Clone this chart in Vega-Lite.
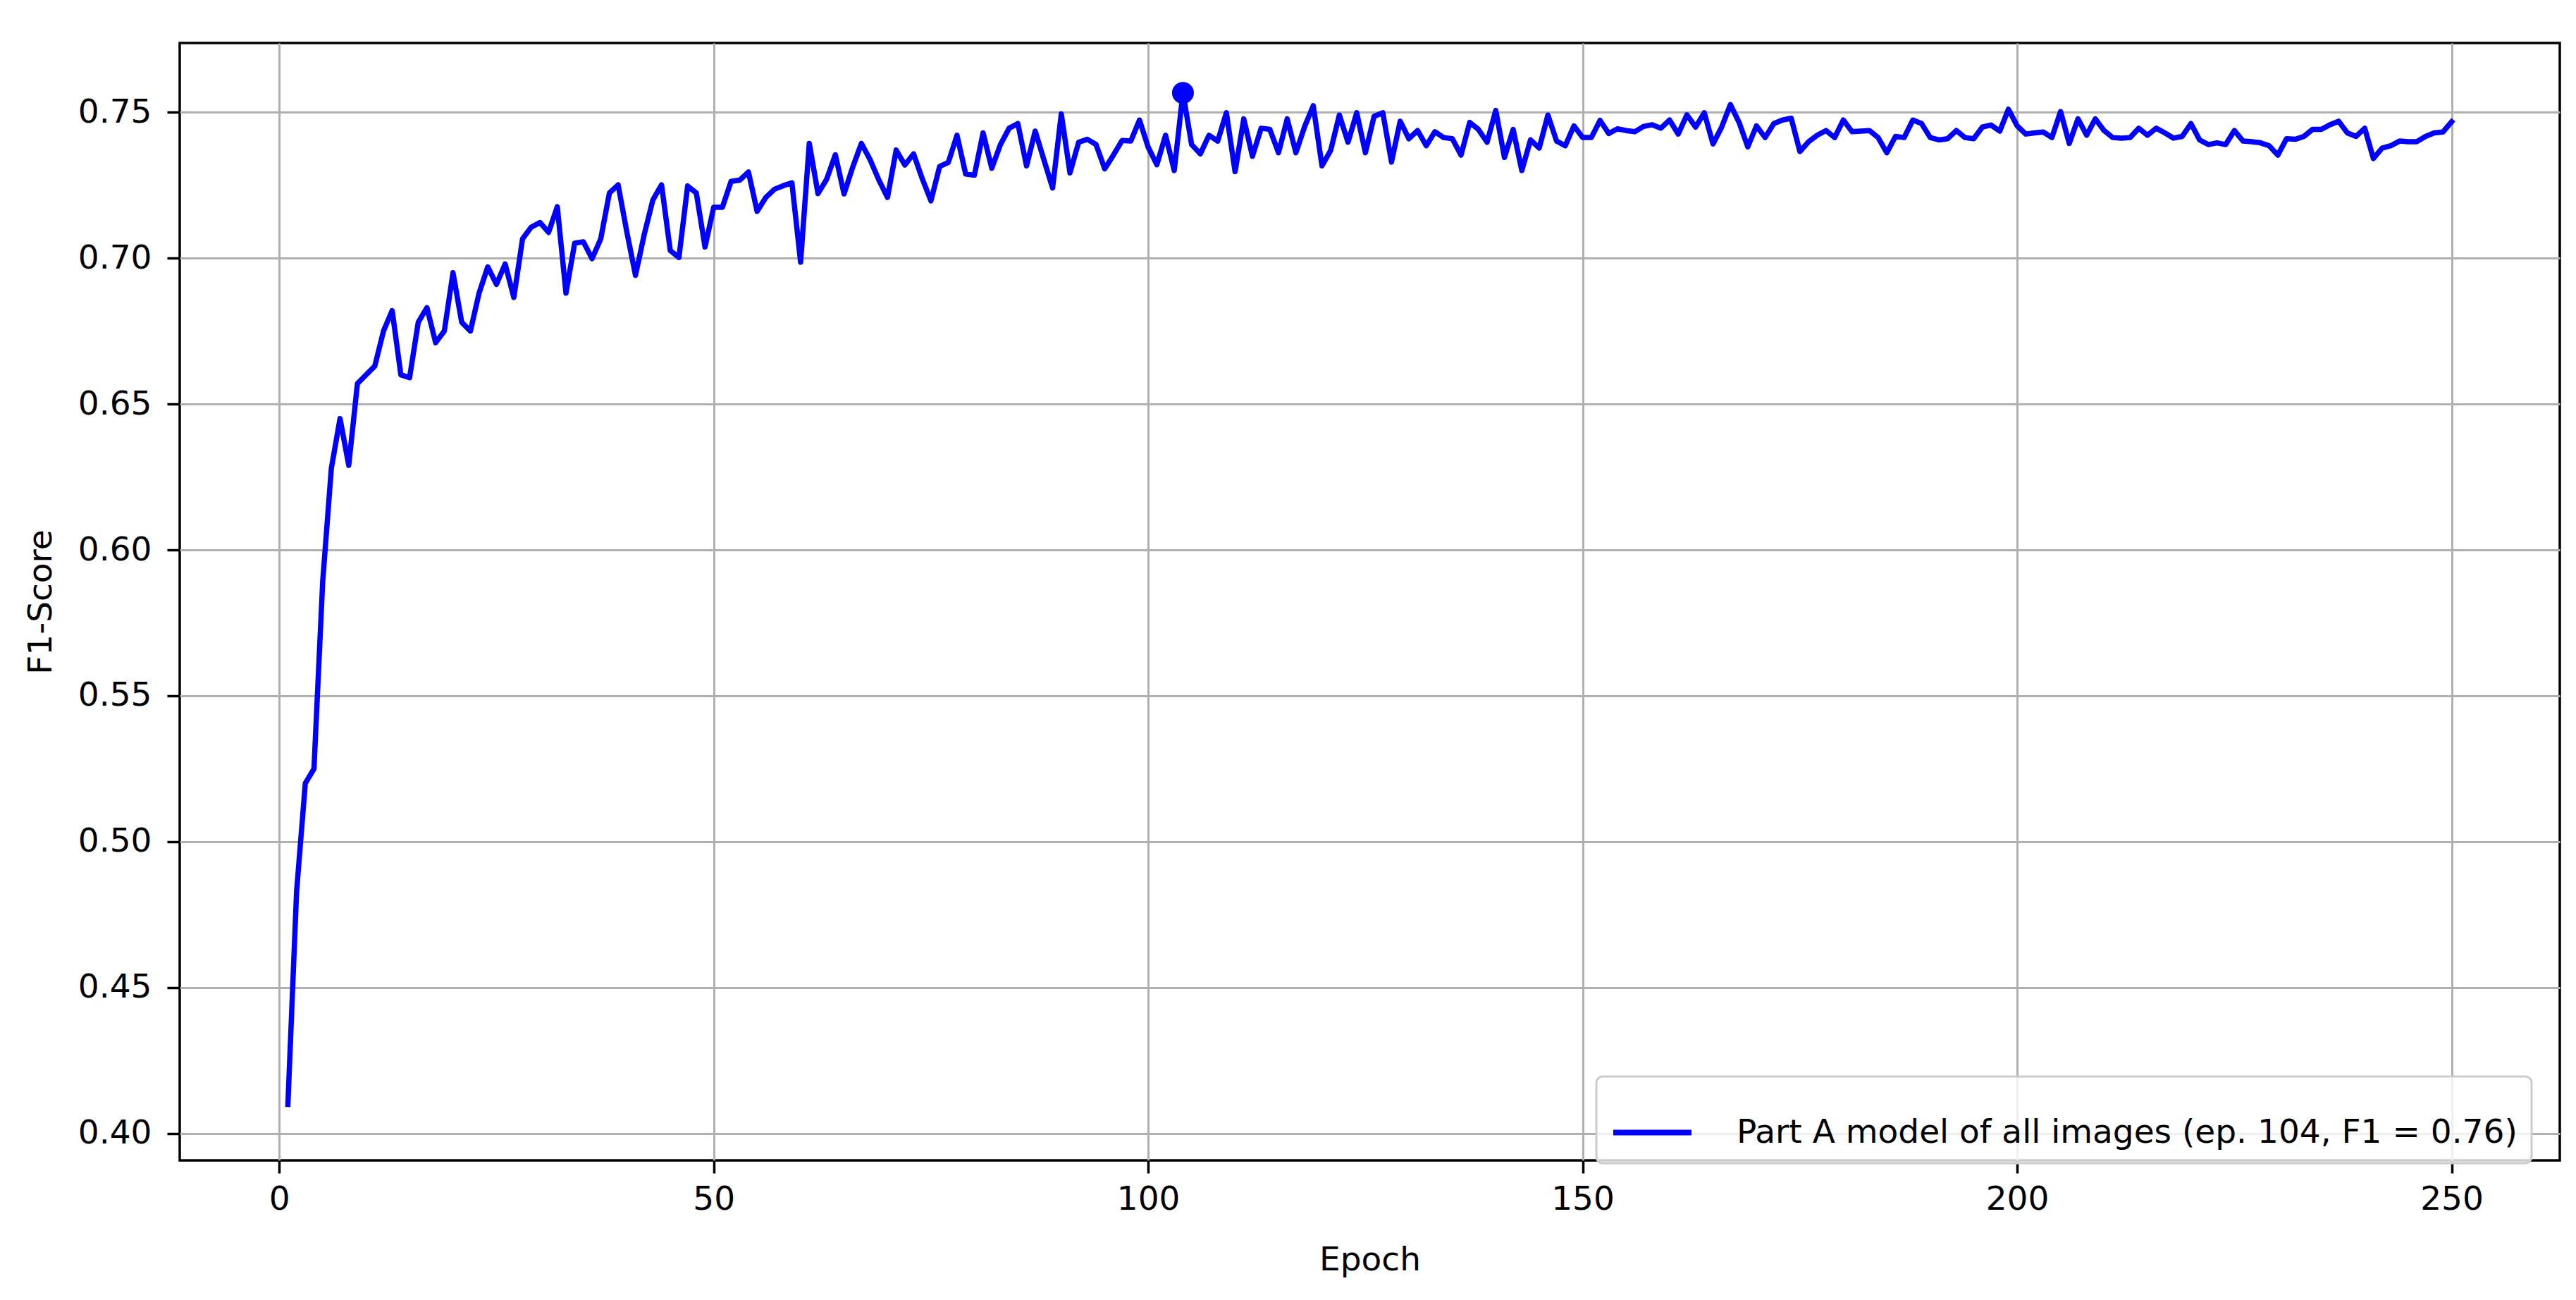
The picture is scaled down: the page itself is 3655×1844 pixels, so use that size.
{
  "$schema": "https://vega.github.io/schema/vega-lite/v6.json",
  "width": 3377,
  "height": 1585,
  "autosize": {"type": "none"},
  "padding": {"left": 255, "top": 61, "right": 23, "bottom": 198},
  "background": "#ffffff",
  "config": {
    "font": "DejaVu Sans",
    "view": {"stroke": "#000000", "strokeWidth": 3.5},
    "axis": {
      "domain": false,
      "grid": true,
      "gridColor": "#b0b0b0",
      "gridWidth": 3,
      "tickColor": "#000000",
      "tickWidth": 3.5,
      "tickSize": 18,
      "labelFont": "DejaVu Sans",
      "labelFontSize": 47,
      "labelColor": "#000000",
      "titleFont": "DejaVu Sans",
      "titleFontSize": 47,
      "titleFontWeight": "normal",
      "titleColor": "#000000"
    },
    "legend": {
      "orient": "none",
      "legendX": 2010,
      "legendY": 1466,
      "padding": 20,
      "fillColor": "rgba(255,255,255,0.8)",
      "strokeColor": "#cccccc",
      "strokeWidth": 3,
      "cornerRadius": 9,
      "symbolType": "stroke",
      "symbolSize": 12321,
      "symbolStrokeWidth": 8,
      "labelFont": "DejaVu Sans",
      "labelFontSize": 47,
      "labelColor": "#000000",
      "labelOffset": 60,
      "labelLimit": 0
    }
  },
  "data": {
    "values": [
      {"epoch": 1, "f1": 0.410}, {"epoch": 2, "f1": 0.483}, {"epoch": 3, "f1": 0.520}, {"epoch": 4, "f1": 0.525},
      {"epoch": 5, "f1": 0.589}, {"epoch": 6, "f1": 0.628}, {"epoch": 7, "f1": 0.645}, {"epoch": 8, "f1": 0.629},
      {"epoch": 9, "f1": 0.657}, {"epoch": 10, "f1": 0.660}, {"epoch": 11, "f1": 0.663}, {"epoch": 12, "f1": 0.675},
      {"epoch": 13, "f1": 0.682}, {"epoch": 14, "f1": 0.660}, {"epoch": 15, "f1": 0.659}, {"epoch": 16, "f1": 0.678},
      {"epoch": 17, "f1": 0.683}, {"epoch": 18, "f1": 0.671}, {"epoch": 19, "f1": 0.675}, {"epoch": 20, "f1": 0.695},
      {"epoch": 21, "f1": 0.678}, {"epoch": 22, "f1": 0.675}, {"epoch": 23, "f1": 0.688}, {"epoch": 24, "f1": 0.697},
      {"epoch": 25, "f1": 0.691}, {"epoch": 26, "f1": 0.698}, {"epoch": 27, "f1": 0.6865}, {"epoch": 28, "f1": 0.7066},
      {"epoch": 29, "f1": 0.7106}, {"epoch": 30, "f1": 0.7122}, {"epoch": 31, "f1": 0.7088}, {"epoch": 32, "f1": 0.7176},
      {"epoch": 33, "f1": 0.688}, {"epoch": 34, "f1": 0.7051}, {"epoch": 35, "f1": 0.7056}, {"epoch": 36, "f1": 0.6998},
      {"epoch": 37, "f1": 0.7066}, {"epoch": 38, "f1": 0.7223}, {"epoch": 39, "f1": 0.7251}, {"epoch": 40, "f1": 0.709},
      {"epoch": 41, "f1": 0.6941}, {"epoch": 42, "f1": 0.708}, {"epoch": 43, "f1": 0.7199}, {"epoch": 44, "f1": 0.7251},
      {"epoch": 45, "f1": 0.7026}, {"epoch": 46, "f1": 0.7002}, {"epoch": 47, "f1": 0.7247}, {"epoch": 48, "f1": 0.7223},
      {"epoch": 49, "f1": 0.7038}, {"epoch": 50, "f1": 0.7174}, {"epoch": 51, "f1": 0.7174}, {"epoch": 52, "f1": 0.7263},
      {"epoch": 53, "f1": 0.7267}, {"epoch": 54, "f1": 0.7295}, {"epoch": 55, "f1": 0.716}, {"epoch": 56, "f1": 0.7208},
      {"epoch": 57, "f1": 0.7236}, {"epoch": 58, "f1": 0.7248}, {"epoch": 59, "f1": 0.7258}, {"epoch": 60, "f1": 0.6986},
      {"epoch": 61, "f1": 0.7393}, {"epoch": 62, "f1": 0.7221}, {"epoch": 63, "f1": 0.727}, {"epoch": 64, "f1": 0.7354},
      {"epoch": 65, "f1": 0.722}, {"epoch": 66, "f1": 0.7312}, {"epoch": 67, "f1": 0.7393}, {"epoch": 68, "f1": 0.7337},
      {"epoch": 69, "f1": 0.7268}, {"epoch": 70, "f1": 0.7208}, {"epoch": 71, "f1": 0.737}, {"epoch": 72, "f1": 0.7319},
      {"epoch": 73, "f1": 0.7357}, {"epoch": 74, "f1": 0.7272}, {"epoch": 75, "f1": 0.7196}, {"epoch": 76, "f1": 0.7314},
      {"epoch": 77, "f1": 0.7328}, {"epoch": 78, "f1": 0.7421}, {"epoch": 79, "f1": 0.7288}, {"epoch": 80, "f1": 0.7284},
      {"epoch": 81, "f1": 0.7429}, {"epoch": 82, "f1": 0.7308}, {"epoch": 83, "f1": 0.7389}, {"epoch": 84, "f1": 0.7445},
      {"epoch": 85, "f1": 0.7461}, {"epoch": 86, "f1": 0.7316}, {"epoch": 87, "f1": 0.7435}, {"epoch": 88, "f1": 0.7337},
      {"epoch": 89, "f1": 0.724}, {"epoch": 90, "f1": 0.7494}, {"epoch": 91, "f1": 0.7292}, {"epoch": 92, "f1": 0.7397},
      {"epoch": 93, "f1": 0.7407}, {"epoch": 94, "f1": 0.7389}, {"epoch": 95, "f1": 0.7306}, {"epoch": 96, "f1": 0.7353},
      {"epoch": 97, "f1": 0.7403}, {"epoch": 98, "f1": 0.7401}, {"epoch": 99, "f1": 0.7473}, {"epoch": 100, "f1": 0.738},
      {"epoch": 101, "f1": 0.732}, {"epoch": 102, "f1": 0.7421}, {"epoch": 103, "f1": 0.730}, {"epoch": 104, "f1": 0.7566},
      {"epoch": 105, "f1": 0.7389}, {"epoch": 106, "f1": 0.7357}, {"epoch": 107, "f1": 0.7421}, {"epoch": 108, "f1": 0.7401},
      {"epoch": 109, "f1": 0.7498}, {"epoch": 110, "f1": 0.7296}, {"epoch": 111, "f1": 0.7477}, {"epoch": 112, "f1": 0.7349},
      {"epoch": 113, "f1": 0.7445}, {"epoch": 114, "f1": 0.7441}, {"epoch": 115, "f1": 0.7361}, {"epoch": 116, "f1": 0.7477},
      {"epoch": 117, "f1": 0.7361}, {"epoch": 118, "f1": 0.745}, {"epoch": 119, "f1": 0.7522}, {"epoch": 120, "f1": 0.7316},
      {"epoch": 121, "f1": 0.7369}, {"epoch": 122, "f1": 0.749}, {"epoch": 123, "f1": 0.7397}, {"epoch": 124, "f1": 0.7498},
      {"epoch": 125, "f1": 0.7361}, {"epoch": 126, "f1": 0.7486}, {"epoch": 127, "f1": 0.7498}, {"epoch": 128, "f1": 0.7329},
      {"epoch": 129, "f1": 0.7469}, {"epoch": 130, "f1": 0.7409}, {"epoch": 131, "f1": 0.7437}, {"epoch": 132, "f1": 0.7385},
      {"epoch": 133, "f1": 0.7433}, {"epoch": 134, "f1": 0.7413}, {"epoch": 135, "f1": 0.7409}, {"epoch": 136, "f1": 0.7353},
      {"epoch": 137, "f1": 0.7465}, {"epoch": 138, "f1": 0.7441}, {"epoch": 139, "f1": 0.7397}, {"epoch": 140, "f1": 0.7506},
      {"epoch": 141, "f1": 0.7345}, {"epoch": 142, "f1": 0.7441}, {"epoch": 143, "f1": 0.730}, {"epoch": 144, "f1": 0.7405},
      {"epoch": 145, "f1": 0.7377}, {"epoch": 146, "f1": 0.749}, {"epoch": 147, "f1": 0.7401}, {"epoch": 148, "f1": 0.7385},
      {"epoch": 149, "f1": 0.7453}, {"epoch": 150, "f1": 0.7413}, {"epoch": 151, "f1": 0.7413}, {"epoch": 152, "f1": 0.7472},
      {"epoch": 153, "f1": 0.7427}, {"epoch": 154, "f1": 0.7443}, {"epoch": 155, "f1": 0.7437}, {"epoch": 156, "f1": 0.7433},
      {"epoch": 157, "f1": 0.7451}, {"epoch": 158, "f1": 0.7457}, {"epoch": 159, "f1": 0.7445}, {"epoch": 160, "f1": 0.7473},
      {"epoch": 161, "f1": 0.7425}, {"epoch": 162, "f1": 0.7491}, {"epoch": 163, "f1": 0.7449}, {"epoch": 164, "f1": 0.7498},
      {"epoch": 165, "f1": 0.7391}, {"epoch": 166, "f1": 0.7449}, {"epoch": 167, "f1": 0.7526}, {"epoch": 168, "f1": 0.7465},
      {"epoch": 169, "f1": 0.7381}, {"epoch": 170, "f1": 0.7453}, {"epoch": 171, "f1": 0.7413}, {"epoch": 172, "f1": 0.7461},
      {"epoch": 173, "f1": 0.7473}, {"epoch": 174, "f1": 0.7479}, {"epoch": 175, "f1": 0.7365}, {"epoch": 176, "f1": 0.7399},
      {"epoch": 177, "f1": 0.7421}, {"epoch": 178, "f1": 0.7437}, {"epoch": 179, "f1": 0.7413}, {"epoch": 180, "f1": 0.7473},
      {"epoch": 181, "f1": 0.7433}, {"epoch": 182, "f1": 0.7435}, {"epoch": 183, "f1": 0.7437}, {"epoch": 184, "f1": 0.7413},
      {"epoch": 185, "f1": 0.7361}, {"epoch": 186, "f1": 0.7417}, {"epoch": 187, "f1": 0.7413}, {"epoch": 188, "f1": 0.7473},
      {"epoch": 189, "f1": 0.7461}, {"epoch": 190, "f1": 0.7413}, {"epoch": 191, "f1": 0.7405}, {"epoch": 192, "f1": 0.7409},
      {"epoch": 193, "f1": 0.7437}, {"epoch": 194, "f1": 0.7413}, {"epoch": 195, "f1": 0.7409}, {"epoch": 196, "f1": 0.7449},
      {"epoch": 197, "f1": 0.7456}, {"epoch": 198, "f1": 0.7435}, {"epoch": 199, "f1": 0.751}, {"epoch": 200, "f1": 0.7453},
      {"epoch": 201, "f1": 0.7425}, {"epoch": 202, "f1": 0.7429}, {"epoch": 203, "f1": 0.7432}, {"epoch": 204, "f1": 0.7413},
      {"epoch": 205, "f1": 0.7502}, {"epoch": 206, "f1": 0.7393}, {"epoch": 207, "f1": 0.7477}, {"epoch": 208, "f1": 0.7421},
      {"epoch": 209, "f1": 0.7477}, {"epoch": 210, "f1": 0.7437}, {"epoch": 211, "f1": 0.7413}, {"epoch": 212, "f1": 0.7411},
      {"epoch": 213, "f1": 0.7413}, {"epoch": 214, "f1": 0.7445}, {"epoch": 215, "f1": 0.7421}, {"epoch": 216, "f1": 0.7445},
      {"epoch": 217, "f1": 0.7429}, {"epoch": 218, "f1": 0.7411}, {"epoch": 219, "f1": 0.7417}, {"epoch": 220, "f1": 0.7461},
      {"epoch": 221, "f1": 0.7405}, {"epoch": 222, "f1": 0.7389}, {"epoch": 223, "f1": 0.7395}, {"epoch": 224, "f1": 0.7389},
      {"epoch": 225, "f1": 0.7437}, {"epoch": 226, "f1": 0.7401}, {"epoch": 227, "f1": 0.7399}, {"epoch": 228, "f1": 0.7395},
      {"epoch": 229, "f1": 0.7385}, {"epoch": 230, "f1": 0.7353}, {"epoch": 231, "f1": 0.7409}, {"epoch": 232, "f1": 0.7407},
      {"epoch": 233, "f1": 0.7417}, {"epoch": 234, "f1": 0.7441}, {"epoch": 235, "f1": 0.7441}, {"epoch": 236, "f1": 0.7457},
      {"epoch": 237, "f1": 0.7469}, {"epoch": 238, "f1": 0.7429}, {"epoch": 239, "f1": 0.7417}, {"epoch": 240, "f1": 0.7445},
      {"epoch": 241, "f1": 0.7341}, {"epoch": 242, "f1": 0.7377}, {"epoch": 243, "f1": 0.7385}, {"epoch": 244, "f1": 0.7401},
      {"epoch": 245, "f1": 0.7399}, {"epoch": 246, "f1": 0.7399}, {"epoch": 247, "f1": 0.7417}, {"epoch": 248, "f1": 0.7429},
      {"epoch": 249, "f1": 0.7432}, {"epoch": 250, "f1": 0.7467}
    ]
  },
  "encoding": {
    "x": {
      "field": "epoch",
      "type": "quantitative",
      "scale": {"domain": [-11.45, 262.45], "nice": false, "zero": false},
      "axis": {"title": "Epoch", "values": [0, 50, 100, 150, 200, 250], "format": "d", "labelPadding": 14, "titlePadding": 40}
    },
    "y": {
      "field": "f1",
      "type": "quantitative",
      "scale": {"domain": [0.3908, 0.7737], "nice": false, "zero": false},
      "axis": {"title": "F1-Score", "values": [0.40, 0.45, 0.50, 0.55, 0.60, 0.65, 0.70, 0.75], "format": ".2f", "labelPadding": 22, "titlePadding": 28}
    }
  },
  "layer": [
    {
      "mark": {"type": "line", "strokeWidth": 7.5, "strokeJoin": "round", "strokeCap": "square", "clip": true},
      "encoding": {
        "color": {
          "datum": "Part A model of all images (ep. 104, F1 = 0.76)",
          "type": "nominal",
          "scale": {"range": ["#0000ff"]},
          "legend": {"title": null}
        }
      }
    },
    {
      "transform": [{"filter": "datum.epoch === 104"}],
      "mark": {"type": "point", "filled": true, "opacity": 1, "size": 960, "color": "#0000ff"},
      "encoding": {}
    }
  ]
}
